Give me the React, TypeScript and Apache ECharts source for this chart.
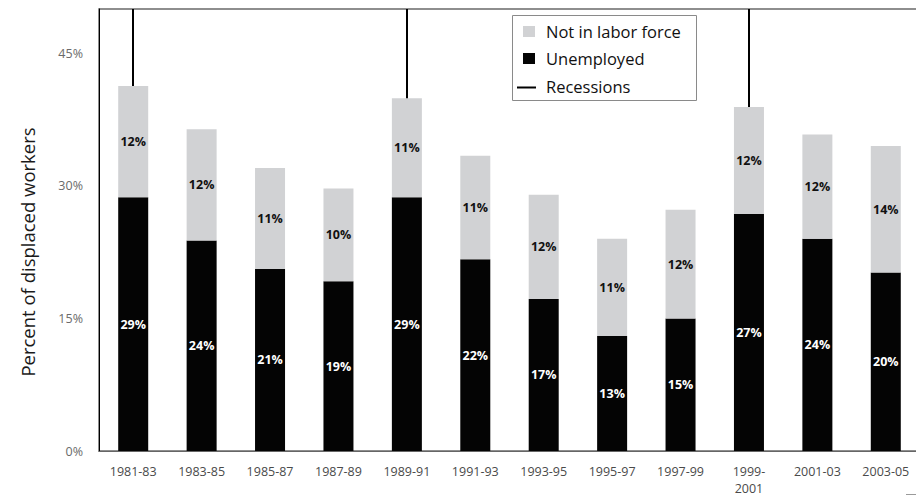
import React, { useEffect, useRef } from "react";
import * as echarts from "echarts";

const categories = [
  "1981-83", "1983-85", "1985-87", "1987-89", "1989-91", "1991-93",
  "1993-95", "1995-97", "1997-99", "1999-2001", "2001-03", "2003-05",
];
const unemployed = [28.7, 23.8, 20.6, 19.2, 28.7, 21.7, 17.2, 13.0, 15.0, 26.8, 24.0, 20.2];
const notInLaborForce = [12.6, 12.6, 11.4, 10.5, 11.2, 11.7, 11.8, 11.0, 12.3, 12.1, 11.8, 14.3];
const unemployedLabels = ["29%", "24%", "21%", "19%", "29%", "22%", "17%", "13%", "15%", "27%", "24%", "20%"];
const notInLaborForceLabels = ["12%", "12%", "11%", "10%", "11%", "11%", "12%", "11%", "12%", "12%", "12%", "14%"];
const recessionPeriods = ["1981-83", "1989-91", "1999-2001"];
const yTickValues = [0, 15, 30, 45];
const legendLabels = ["Not in labor force", "Unemployed", "Recessions"];
const yAxisTitle = "Percent of displaced workers";

const FONT = "'Open Sans', 'Noto Sans', sans-serif";
const GRAY = "#d1d2d4";
const BLACK = "#040404";

export default function App() {
  const ref = useRef<HTMLDivElement>(null);

  useEffect(() => {
    if (!ref.current) return;
    const chart = echarts.init(ref.current, null, { renderer: "svg" });
    const Y_MAX = 50;

    const option: any = {
      animation: false,
      backgroundColor: "#ffffff",
      textStyle: { fontFamily: FONT },
      grid: {
        left: 99,
        top: 9,
        width: 821,
        bottom: 45,
        containLabel: false,
        outerBoundsMode: "none",
        show: true,
        borderColor: "#6a6a6a",
        borderWidth: 1.5,
        backgroundColor: "transparent",
      },
      xAxis: {
        type: "category",
        data: categories,
        axisLine: { show: true, lineStyle: { color: "#666666", width: 1 } },
        axisTick: { show: false },
        splitLine: { show: false },
        axisLabel: {
          interval: 0,
          color: "#4a4a4a",
          fontSize: 12.5,
          fontFamily: FONT,
          margin: 12,
          lineHeight: 17,
          formatter: (v: string) => (v.length > 7 ? v.replace("-", "-\n") : v),
        },
      },
      yAxis: {
        type: "value",
        min: 0,
        max: Y_MAX,
        interval: 15,
        axisLine: { show: true, lineStyle: { color: "#000000", width: 1 } },
        axisTick: { show: false },
        splitLine: { show: false },
        axisLabel: {
          color: "#6a6a6a",
          fontSize: 12.5,
          fontFamily: FONT,
          margin: 16,
          formatter: (v: number) => (yTickValues.indexOf(v) >= 0 ? v + "%" : ""),
        },
      },
      series: [
        {
          name: legendLabels[1],
          type: "bar",
          stack: "total",
          data: unemployed,
          barWidth: 30,
          itemStyle: { color: BLACK },
          label: {
            show: true,
            position: "inside",
            color: "#ffffff",
            fontWeight: "bold",
            fontSize: 12.5,
            fontFamily: FONT,
            formatter: (p: any) => unemployedLabels[p.dataIndex],
          },
        },
        {
          name: legendLabels[0],
          type: "bar",
          stack: "total",
          data: notInLaborForce,
          barWidth: 30,
          itemStyle: { color: GRAY },
          label: {
            show: true,
            position: "inside",
            color: "#111111",
            fontWeight: "bold",
            fontSize: 12.5,
            fontFamily: FONT,
            formatter: (p: any) => notInLaborForceLabels[p.dataIndex],
          },
        },
        {
          name: legendLabels[2],
          type: "line",
          data: [],
          markLine: {
            silent: true,
            symbol: "none",
            label: { show: false },
            lineStyle: { color: "#000000", width: 2, type: "solid" },
            emphasis: { disabled: true },
            data: recessionPeriods.map((c) => {
              const i = categories.indexOf(c);
              return [
                { coord: [c, unemployed[i] + notInLaborForce[i]] },
                { coord: [c, Y_MAX] },
              ];
            }),
          },
        },
      ],
      graphic: [
        {
          type: "text",
          x: 27,
          y: 252,
          rotation: Math.PI / 2,
          style: {
            text: yAxisTitle,
            fontSize: 18.5,
            fontFamily: FONT,
            fill: "#1a1a1a",
            textAlign: "center",
            textVerticalAlign: "middle",
          },
        },
        {
          type: "rect",
          shape: { x: 512.5, y: 15.5, width: 184, height: 85 },
          style: { fill: "#ffffff", stroke: "#8a8a8a", lineWidth: 1 },
        },
        {
          type: "rect",
          shape: { x: 523, y: 26, width: 12, height: 11 },
          style: { fill: GRAY },
        },
        {
          type: "rect",
          shape: { x: 523, y: 53, width: 12, height: 11 },
          style: { fill: BLACK },
        },
        {
          type: "line",
          shape: { x1: 517, y1: 87.5, x2: 536, y2: 87.5 },
          style: { stroke: "#000000", lineWidth: 2 },
        },
        {
          type: "text",
          x: 546,
          y: 31.5,
          style: {
            text: legendLabels[0],
            fontSize: 16.5,
            fontFamily: FONT,
            fill: "#111111",
            textVerticalAlign: "middle",
          },
        },
        {
          type: "text",
          x: 546,
          y: 58.5,
          style: {
            text: legendLabels[1],
            fontSize: 16.5,
            fontFamily: FONT,
            fill: "#111111",
            textVerticalAlign: "middle",
          },
        },
        {
          type: "text",
          x: 546,
          y: 86,
          style: {
            text: legendLabels[2],
            fontSize: 16.5,
            fontFamily: FONT,
            fill: "#111111",
            textVerticalAlign: "middle",
          },
        },
        {
          type: "line",
          shape: { x1: 906, y1: 494.5, x2: 916, y2: 494.5 },
          style: { stroke: "#9a9a9a", lineWidth: 1 },
        },
      ],
    };

    chart.setOption(option);
    return () => chart.dispose();
  }, []);

  return (
    <div
      ref={ref}
      style={{ position: "absolute", left: 0, top: 0, width: 916, height: 496 }}
    />
  );
}
